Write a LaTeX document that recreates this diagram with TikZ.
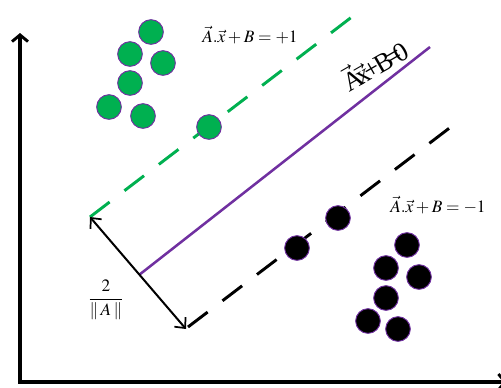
\documentclass[tikz,border=0pt]{standalone}
\usepackage{amsmath}
\usepackage{mathptmx}
\usepackage{fontspec}
\setmainfont{Liberation Serif}
\usetikzlibrary{arrows.meta}
\definecolor{svmgreen}{HTML}{00B050}
\definecolor{svmpurple}{HTML}{7030A0}
\tikzset{
  axisline/.style={line width=2.6pt, line join=miter, {Straight Barb[length=5pt,width=12pt,line width=2.2pt]}-{Straight Barb[length=5pt,width=12pt,line width=2.2pt]}},
  marginline/.style={line width=2.2pt, dash pattern=on 18.5pt off 14pt},
  gdot/.style={circle, draw=svmpurple, line width=0.7pt, fill=svmgreen, minimum size=18.5pt, inner sep=0pt},
  bdot/.style={circle, draw=svmpurple, line width=0.7pt, fill=black, minimum size=18.5pt, inner sep=0pt},
  gapline/.style={line width=1.5pt, {Straight Barb[length=6pt,width=11pt,line width=1.3pt]}-{Straight Barb[length=6pt,width=11pt,line width=1.3pt]}},
  lbl/.style={inner sep=0pt, font=\fontsize{13}{15}\selectfont}
}
\begin{document}
\begin{tikzpicture}[x=0.75pt,y=-0.75pt]
\useasboundingbox (0,0) rectangle (501,387);
% axes
\coordinate (ytop) at (20,33);
\coordinate (orig) at (20,382);
\coordinate (xend) at (507,382);
\draw[axisline] (ytop) -- (orig) -- (xend);
% lines
\coordinate (gs) at (90,217);
\coordinate (ge) at (357,13);
\coordinate (ps) at (139,275);
\coordinate (pe) at (430,47);
\coordinate (bs) at (188,327);
\coordinate (be) at (460,120);
\draw[marginline, svmgreen] (gs) -- (ge);
\draw[marginline, black] (bs) -- (be);
\draw[svmpurple, line width=1.9pt] (ps) -- (pe);
\draw[gapline] (gs) -- (186,329) coordinate (ae);
% green points
\node[gdot] (g1) at (151,32) {};
\node[gdot] (g2) at (130,54) {};
\node[gdot] (g3) at (163,63) {};
\node[gdot] (g4) at (130,83) {};
\node[gdot] (g5) at (109,107) {};
\node[gdot] (g6) at (143,116) {};
\node[gdot] (g7) at (209,127) {};
% black points
\node[bdot] (b1) at (338,218) {};
\node[bdot] (b2) at (297,248) {};
\node[bdot] (b3) at (407,245) {};
\node[bdot] (b4) at (386,268) {};
\node[bdot] (b5) at (419,277) {};
\node[bdot] (b6) at (386,298) {};
\node[bdot] (b7) at (368,321) {};
\node[bdot] (b8) at (398,329) {};
% labels
\node[lbl] (lp) at (250,35) {$\vec{A}.\vec{x}+B=+1$};
\node[lbl] (lm) at (438,205) {$\vec{A}.\vec{x}+B=-1$};
\node[inner sep=0pt, rotate=30, font=\fontsize{20}{22}\selectfont] (l0) at (374,64)
  {$\vec{\hbox{A}}\mkern-3mu\vec{\hbox{x}}\mkern-3mu\hbox{+}\mkern-2mu\hbox{B}\mkern-3mu\hbox{=}\mkern-4mu\hbox{0}$};
\node[inner sep=0pt, font=\fontsize{13}{15}\selectfont] (fr) at (106,300) {$\dfrac{2}{\|\:A\:\|}$};
\end{tikzpicture}
\end{document}
